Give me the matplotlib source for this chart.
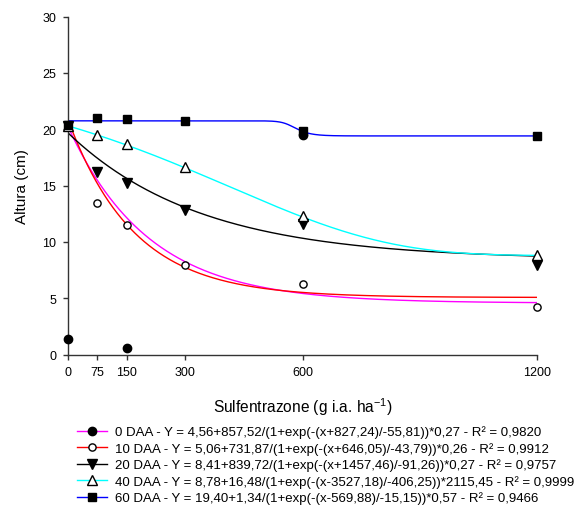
import numpy as np
import matplotlib
matplotlib.use("Agg")
from matplotlib import pyplot as plt
from matplotlib.lines import Line2D

plt.rcParams['font.family'] = 'Liberation Sans'
plt.rcParams['mathtext.fontset'] = 'custom'
plt.rcParams['mathtext.rm'] = 'Liberation Sans'
plt.rcParams['mathtext.it'] = 'Liberation Sans:italic'

dose = [0, 75, 150, 300, 600, 1200]
daa0_x = [0, 150, 600]
daa0_y = [1.4, 0.6, 19.45]
daa10 = [20.4, 13.47, 11.45, 7.95, 6.27, 4.2]
daa20 = [20.3, 16.2, 15.2, 12.8, 11.6, 7.95]
daa40 = [20.3, 19.5, 18.7, 16.65, 12.25, 8.85]
daa60 = [20.4, 21.0, 20.93, 20.75, 19.85, 19.4]

# fitted model parameters shown in the legend: y = a + b/(1+exp(-(x-x0)/s))^c
fit_a = [4.56, 5.06, 8.41, 8.78, 19.40]
fit_b = [857.52, 731.87, 839.72, 16.48, 1.34]
fit_x0 = [-827.24, -646.05, -1457.46, 3527.18, 569.88]
fit_s = [-55.81, -43.79, -91.26, -406.25, -15.15]
fit_c = [0.27, 0.26, 0.27, 2115.45, 0.57]
labels = [
    "0 DAA - Y = 4,56+857,52/(1+exp(-(x+827,24)/-55,81))*0,27 - R² = 0,9820",
    "10 DAA - Y = 5,06+731,87/(1+exp(-(x+646,05)/-43,79))*0,26 - R² = 0,9912",
    "20 DAA - Y = 8,41+839,72/(1+exp(-(x+1457,46)/-91,26))*0,27 - R² = 0,9757",
    "40 DAA - Y = 8,78+16,48/(1+exp(-(x-3527,18)/-406,25))*2115,45 - R² = 0,9999",
    "60 DAA - Y = 19,40+1,34/(1+exp(-(x-569,88)/-15,15))*0,57 - R² = 0,9466",
]
line_colors = ['#ff00ff', '#ff0000', '#000000', '#00ffff', '#0000ff']

W, H = 576, 510
fig = plt.figure(figsize=(W / 100, H / 100), dpi=100)
renderer = fig.canvas.get_renderer()


def fit_size(text, target_px, base=10):
    # pick a font size so the text spans target_px pixels
    t = fig.text(0, 0, text, fontsize=base)
    bb = t.get_window_extent(renderer)
    t.remove()
    return base * target_px / bb.width


leg_fs = fit_size(labels[0], 426)
tick_fs = fit_size("1200", 28)
xlab_fs = fit_size("Sulfentrazone (g i.a. ha$^{-1}$)", 180)
ylab_fs = fit_size("Altura (cm)", 75)

ax = fig.add_axes([68 / W, 1 - 355.5 / H, 469 / W, 338 / H])

xx = np.linspace(0, 1200, 1201)
for i in range(5):
    z = -(xx - fit_x0[i]) / fit_s[i]
    # log form to avoid overflow
    yy = fit_a[i] + fit_b[i] * np.exp(-fit_c[i] * np.logaddexp(0, z))
    ax.plot(xx, yy, color=line_colors[i], lw=1, zorder=2)

ms_fill = 6
ms_open = 5.2
ms_tri = 6.5
ax.plot(daa0_x, daa0_y, 'o', color='black', ms=ms_fill, clip_on=False, zorder=3)
ax.plot(dose, daa10, 'o', mfc='white', mec='black', mew=1, ms=ms_open, clip_on=False, zorder=3)
ax.plot(dose, daa20, 'v', color='black', ms=ms_tri, clip_on=False, zorder=3)
ax.plot(dose, daa40, '^', mfc='white', mec='black', mew=1, ms=ms_tri, clip_on=False, zorder=3)
ax.plot(dose, daa60, 's', color='black', ms=ms_fill, clip_on=False, zorder=4)

ax.set_xlim(0, 1200)
ax.set_ylim(0, 30)
ax.set_xticks(dose)
ax.set_yticks(range(0, 31, 5))
ax.spines['top'].set_visible(False)
ax.spines['right'].set_visible(False)
for sp in ['left', 'bottom']:
    ax.spines[sp].set_color('#333333')
    ax.spines[sp].set_linewidth(1)
ax.tick_params(direction='out', length=3.6, width=1, color='#333333', labelsize=tick_fs, pad=5)

fig.text(302.5 / W, 1 - 407 / H, "Sulfentrazone (g i.a. ha$^{-1}$)", fontsize=xlab_fs,
         ha='center', va='center')
fig.text(22.5 / W, 1 - 187 / H, "Altura (cm)", fontsize=ylab_fs, rotation=90,
         ha='center', va='center')

handles = [
    Line2D([], [], color=line_colors[0], lw=1, marker='o', mfc='black', mec='black', ms=ms_fill),
    Line2D([], [], color=line_colors[1], lw=1, marker='o', mfc='white', mec='black', ms=ms_open),
    Line2D([], [], color=line_colors[2], lw=1, marker='v', mfc='black', mec='black', ms=ms_tri),
    Line2D([], [], color=line_colors[3], lw=1, marker='^', mfc='white', mec='black', ms=ms_tri),
    Line2D([], [], color=line_colors[4], lw=1, marker='s', mfc='black', mec='black', ms=ms_fill),
]

# row height of a legend entry, to set spacing of 16.5 px between rows
t = fig.text(0, 0, labels[0], fontsize=leg_fs)
row_h = t.get_window_extent(renderer).height
t.remove()
fs_px = leg_fs * 100 / 72
fig.legend(handles, labels, loc='upper left',
           bbox_to_anchor=(77 / W, 1 - (433 - row_h / 2) / H),
           frameon=False, fontsize=leg_fs, handlelength=30 / fs_px,
           handletextpad=8 / fs_px, labelspacing=(16.5 - row_h) / fs_px,
           borderaxespad=0, borderpad=0)

fig.savefig("out.png", dpi=100)
